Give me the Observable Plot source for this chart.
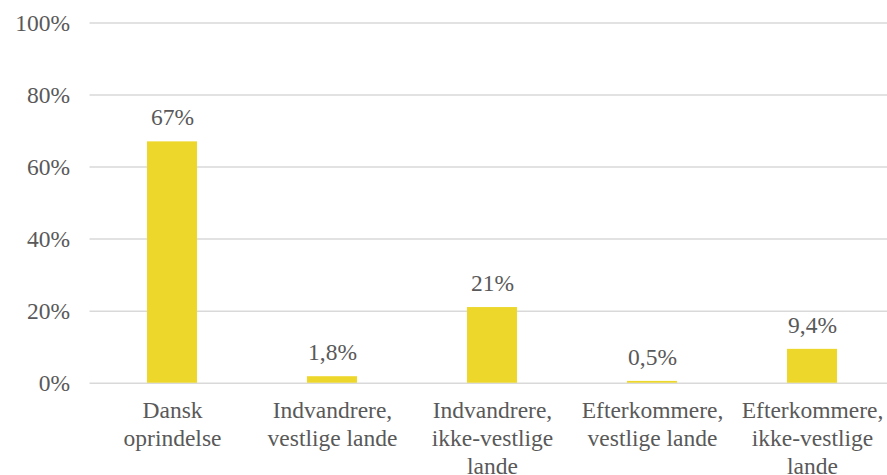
<!DOCTYPE html>
<html>
<head>
<meta charset="utf-8">
<script src="https://cdn.jsdelivr.net/npm/d3@7"></script>
<script src="https://cdn.jsdelivr.net/npm/@observablehq/plot@0.6"></script>
<style>
  html, body { margin: 0; padding: 0; background: #fff; }
  #chart svg { display: block; }
</style>
</head>
<body>
<div id="chart"></div>
<script>
const categories = ["Dansk oprindelse", "Indvandrere, vestlige lande", "Indvandrere, ikke-vestlige lande", "Efterkommere, vestlige lande", "Efterkommere, ikke-vestlige lande"];
const tickLabels = ["Dansk\noprindelse", "Indvandrere,\nvestlige lande", "Indvandrere,\nikke-vestlige\nlande", "Efterkommere,\nvestlige lande", "Efterkommere,\nikke-vestlige\nlande"];
const values = [67, 1.8, 21, 0.5, 9.4];
const valueLabels = ["67%", "1,8%", "21%", "0,5%", "9,4%"];
const yTicks = [0, 20, 40, 60, 80, 100];

const data = categories.map((c, i) => ({cat: c, value: values[i], label: valueLabels[i]}));
const labelOf = new Map(categories.map((c, i) => [c, tickLabels[i]]));

const W = 887, H = 475;
const textColor = "#595959";
const font = "'Liberation Serif', 'Times New Roman', serif";

const chart = Plot.plot({
  width: W,
  height: H,
  marginTop: 22.5,
  marginBottom: 92.3,
  marginLeft: 89.5,
  marginRight: 0,
  style: {fontFamily: font, fontSize: "23.5px", color: textColor, background: "#fff"},
  x: {domain: categories, range: [89.5, 894], paddingInner: 0.689, paddingOuter: 0.345},
  y: {domain: [0, 100]},
  marks: [
    Plot.ruleY(yTicks, {stroke: "#d9d9d9", strokeWidth: 1.5}),
    Plot.barY(data, {x: "cat", y: "value", fill: "#ecd72a"}),
    Plot.text(data, {x: "cat", y: "value", text: "label", dy: -24, lineAnchor: "middle", fill: textColor, fontSize: 23.5}),
    Plot.axisY({ticks: yTicks, tickSize: 0, tickPadding: 20, tickFormat: d => d + "%", fontSize: 23.5, fill: textColor, label: null}),
    Plot.axisX({tickSize: 0, tickPadding: 15, tickFormat: d => labelOf.get(d), lineHeight: 1.19, fontSize: 23.5, fill: textColor, label: null})
  ]
});
document.getElementById("chart").appendChild(chart);
</script>
</body>
</html>
